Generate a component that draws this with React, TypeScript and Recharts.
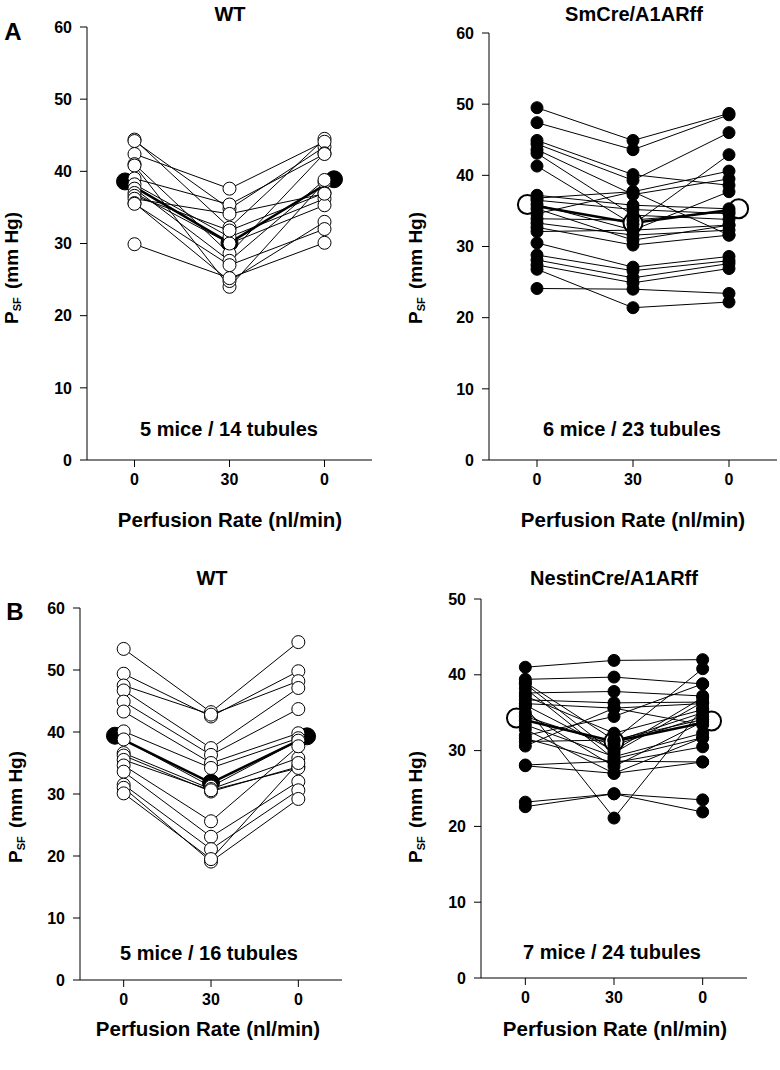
import { LineChart, Line, XAxis, YAxis } from 'recharts';

const font = '"Liberation Sans", Arial, Helvetica, sans-serif';
const rateTicks = ['0', '30', '0'];

// A, WT: 5 mice / 14 tubules
const wtA_base = [44.4, 44.2, 42.4, 41.0, 40.8, 39.0, 38.2, 37.6, 37.0, 36.6, 36.2, 35.6, 35.5, 29.9];
const wtA_perf = [32.2, 34.8, 37.6, 28.6, 24.0, 35.4, 30.9, 27.6, 30.0, 31.8, 34.1, 24.8, 27.0, 25.2];
const wtA_recov = [44.5, 43.4, 44.1, 42.5, 38.5, 42.4, 36.2, 38.8, 35.3, 37.0, 36.9, 33.0, 32.0, 30.1];
const wtA_mean = [38.6, 30.1, 38.9];

// A, SmCre/A1ARff: 6 mice / 23 tubules
const smA_base = [49.5, 47.4, 44.9, 44.4, 43.6, 43.1, 41.3, 37.2, 36.8, 36.5, 35.9, 35.3, 34.6, 33.9, 33.3, 32.7, 32.1, 30.5, 28.8, 28.1, 27.4, 26.8, 24.1];
const smA_perf = [44.9, 43.6, 40.1, 39.3, 37.3, 34.4, 33.1, 35.8, 37.7, 35.2, 32.3, 30.9, 37.7, 33.7, 31.6, 30.2, 32.3, 27.1, 26.6, 25.6, 24.9, 21.4, 24.0];
const smA_recov = [48.7, 48.5, 38.6, 46.0, 39.5, 33.8, 42.9, 35.3, 40.6, 34.6, 37.7, 33.0, 31.6, 34.9, 32.3, 31.6, 33.0, 28.6, 28.0, 27.6, 26.9, 22.2, 23.4];
const smA_mean = [35.9, 33.3, 35.3];

// B, WT: 5 mice / 16 tubules
const wtB_base = [53.4, 49.4, 47.5, 46.7, 44.9, 43.3, 40.1, 38.8, 36.6, 36.2, 35.5, 34.6, 33.6, 31.5, 31.0, 30.1];
const wtB_perf = [43.2, 42.5, 42.8, 37.4, 36.3, 35.0, 34.2, 31.2, 30.8, 30.4, 30.6, 25.6, 23.1, 21.1, 19.1, 19.5];
const wtB_recov = [54.5, 49.8, 48.2, 47.1, 43.7, 39.8, 39.0, 38.6, 35.8, 34.4, 34.2, 37.7, 32.0, 30.6, 29.2, 35.0];
const wtB_mean = [39.4, 31.8, 39.3];

// B, NestinCre/A1ARff: 7 mice / 24 tubules
const ncB_base = [41.0, 39.4, 39.0, 38.8, 38.2, 37.6, 37.2, 36.7, 36.2, 36.0, 35.8, 35.0, 34.5, 34.0, 33.4, 32.8, 32.0, 31.6, 31.2, 30.6, 28.1, 28.0, 23.2, 22.6];
const ncB_perf = [41.9, 39.7, 31.4, 29.7, 28.9, 37.8, 32.3, 36.3, 35.6, 30.0, 21.1, 27.9, 30.7, 31.2, 29.2, 27.0, 34.5, 28.4, 31.4, 35.6, 28.6, 27.0, 24.3, 24.3];
const ncB_recov = [42.0, 38.8, 40.8, 36.4, 31.7, 37.2, 35.4, 36.4, 36.2, 37.0, 35.6, 33.8, 34.5, 35.0, 32.3, 31.7, 38.8, 30.5, 34.1, 33.4, 28.5, 28.5, 23.5, 21.9];
const ncB_mean = [34.3, 31.2, 33.9];

const meanX = [-0.1, 1, 2.1];

function toLines(base: number[], perf: number[], recov: number[]) {
  return base.map((b, i) => [
    { x: 0, y: b },
    { x: 1, y: perf[i] },
    { x: 2, y: recov[i] },
  ]);
}

type PanelProps = {
  left: number;
  top: number;
  width: number;
  height: number;
  margin: { top: number; right: number; bottom: number; left: number };
  yWidth: number;
  xHeight: number;
  yMax: number;
  base: number[];
  perf: number[];
  recov: number[];
  mean: number[];
  filled: boolean;
  dotR: number;
  meanR: number;
};

const tickStyle = { fill: '#000', fontSize: 16, fontWeight: 'bold', fontFamily: font };

function Panel(p: PanelProps) {
  const lines = toLines(p.base, p.perf, p.recov);
  const meanData = p.mean.map((y, i) => ({ x: meanX[i], y }));
  const yTicks: number[] = [];
  for (let v = 0; v <= p.yMax; v += 10) yTicks.push(v);

  const dot = p.filled
    ? { r: p.dotR, fill: '#000', stroke: '#000', strokeWidth: 1 }
    : { r: p.dotR, fill: '#fff', stroke: '#000', strokeWidth: 1 };
  const meanDot = p.filled
    ? { r: p.meanR, fill: '#fff', stroke: '#000', strokeWidth: 2 }
    : { r: p.meanR, fill: '#000', stroke: '#000', strokeWidth: 1 };

  return (
    <div style={{ position: 'absolute', left: p.left, top: p.top }}>
      <LineChart width={p.width} height={p.height} margin={p.margin}>
        <XAxis
          type="number"
          dataKey="x"
          domain={[-0.5, 2.5]}
          ticks={[0, 1, 2]}
          tickFormatter={(v: number) => rateTicks[v]}
          height={p.xHeight}
          axisLine={{ stroke: '#000' }}
          tickLine={{ stroke: '#000' }}
          tickSize={7}
          tickMargin={7}
          tick={tickStyle}
          allowDataOverflow
        />
        <YAxis
          type="number"
          domain={[0, p.yMax]}
          ticks={yTicks}
          width={p.yWidth}
          axisLine={{ stroke: '#000' }}
          tickLine={{ stroke: '#000' }}
          tickSize={7}
          tickMargin={8}
          tick={tickStyle}
          allowDataOverflow
        />
        {lines.map((d, i) => (
          <Line key={'l' + i} data={d} dataKey="y" stroke="#000" strokeWidth={1} dot={false} isAnimationActive={false} />
        ))}
        <Line data={meanData} dataKey="y" stroke="#000" strokeWidth={2.5} dot={meanDot} isAnimationActive={false} />
        {lines.map((d, i) => (
          <Line key={'d' + i} data={d} dataKey="y" stroke="none" dot={dot} isAnimationActive={false} />
        ))}
      </LineChart>
    </div>
  );
}

function Txt({ x, y, size, children }: { x: number; y: number; size: number; children: any }) {
  return (
    <div
      style={{
        position: 'absolute',
        left: x,
        top: y,
        transform: 'translate(-50%, -50%)',
        fontSize: size,
        fontWeight: 'bold',
        fontFamily: font,
        lineHeight: 1,
        whiteSpace: 'nowrap',
      }}
    >
      {children}
    </div>
  );
}

function YLabel({ x, y }: { x: number; y: number }) {
  return (
    <div
      style={{
        position: 'absolute',
        left: x,
        top: y,
        transform: 'translate(-50%, -50%) rotate(-90deg)',
        fontSize: 19,
        fontWeight: 'bold',
        fontFamily: font,
        lineHeight: 1,
        whiteSpace: 'nowrap',
      }}
    >
      P<span style={{ fontSize: 11, verticalAlign: -3, marginRight: 3 }}>SF</span> (mm Hg)
    </div>
  );
}

export default function App() {
  return (
    <div style={{ position: 'absolute', left: 0, top: 0, width: 780, height: 1070, background: '#fff' }}>
      <Panel
        left={0} top={0} width={390} height={540}
        margin={{ top: 27, right: 18, bottom: 0, left: 0 }}
        yWidth={87} xHeight={80} yMax={60}
        base={wtA_base} perf={wtA_perf} recov={wtA_recov} mean={wtA_mean}
        filled={false} dotR={6.5} meanR={8.5}
      />
      <Panel
        left={390} top={0} width={390} height={540}
        margin={{ top: 33, right: 3, bottom: 0, left: 0 }}
        yWidth={99} xHeight={80} yMax={60}
        base={smA_base} perf={smA_perf} recov={smA_recov} mean={smA_mean}
        filled={true} dotR={6} meanR={9.5}
      />
      <Panel
        left={0} top={540} width={390} height={530}
        margin={{ top: 68, right: 48, bottom: 0, left: 0 }}
        yWidth={80} xHeight={90} yMax={60}
        base={wtB_base} perf={wtB_perf} recov={wtB_recov} mean={wtB_mean}
        filled={false} dotR={6.5} meanR={8.5}
      />
      <Panel
        left={390} top={540} width={390} height={530}
        margin={{ top: 59, right: 33, bottom: 0, left: 0 }}
        yWidth={91} xHeight={92} yMax={50}
        base={ncB_base} perf={ncB_perf} recov={ncB_recov} mean={ncB_mean}
        filled={true} dotR={6} meanR={9.5}
      />

      <Txt x={13} y={32} size={24}>A</Txt>
      <Txt x={15} y={612} size={24}>B</Txt>

      <Txt x={230} y={14} size={20}>WT</Txt>
      <Txt x={634} y={14} size={20}>SmCre/A1ARff</Txt>
      <Txt x={212} y={578} size={20}>WT</Txt>
      <Txt x={614} y={578} size={20}>NestinCre/A1ARff</Txt>

      <Txt x={229} y={429} size={20}>5 mice / 14 tubules</Txt>
      <Txt x={632} y={429} size={20}>6 mice / 23 tubules</Txt>
      <Txt x={209} y={953} size={20}>5 mice / 16 tubules</Txt>
      <Txt x={612} y={952} size={20}>7 mice / 24 tubules</Txt>

      <Txt x={230} y={520} size={20.5}>Perfusion Rate (nl/min)</Txt>
      <Txt x={633} y={520} size={20.5}>Perfusion Rate (nl/min)</Txt>
      <Txt x={208} y={1029} size={20.5}>Perfusion Rate (nl/min)</Txt>
      <Txt x={615} y={1029} size={20.5}>Perfusion Rate (nl/min)</Txt>

      <YLabel x={12} y={268} />
      <YLabel x={416} y={268} />
      <YLabel x={16} y={807} />
      <YLabel x={416} y={807} />
    </div>
  );
}
